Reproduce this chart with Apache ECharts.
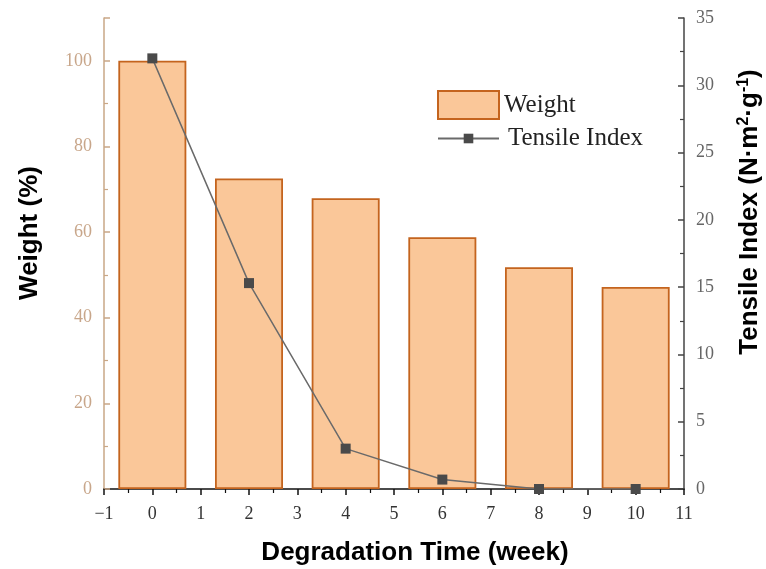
<!DOCTYPE html>
<html>
<head>
<meta charset="utf-8">
<script src="https://cdn.jsdelivr.net/npm/echarts@6/dist/echarts.min.js"></script>
<style>html,body{margin:0;padding:0;background:#fff}#c{width:766px;height:569px}</style>
</head>
<body>
<div id="c"></div>
<script>
var weeks = [0, 2, 4, 6, 8, 10];
var weightValues = [100, 72.5, 67.9, 58.8, 51.8, 47.2];
var tensileValues = [32.0, 15.3, 3.0, 0.7, 0.0, 0.0];
var xTickMin = -1, xTickMax = 11;
var leftMax = 110, rightMax = 35;

var chart = echarts.init(document.getElementById('c'), null, {renderer: 'canvas'});
var serif = 'Liberation Serif';
var sans = 'Liberation Sans';
var tan = '#c9a786';
function minus(v) { return String(v).replace('-', '\u2212'); }

var option = {
  animation: false,
  backgroundColor: '#fff',
  grid: {left: 104, right: 82, top: 18, bottom: 80},
  legend: [
    {
      data: [{name: 'Weight', icon: 'rect'}], left: 437, top: 90, padding: 0,
      itemWidth: 61, itemHeight: 28, itemGap: 0,
      textStyle: {fontFamily: serif, fontSize: 25, color: '#222', padding: [2, 0, 0, 0]}
    },
    {
      data: ['Tensile Index'], left: 437, top: 126, padding: 0,
      itemWidth: 61, itemHeight: 12,
      textStyle: {fontFamily: serif, fontSize: 25, color: '#222', padding: [0, 0, 0, 4]}
    }
  ],
  xAxis: {
    type: 'value', min: xTickMin, max: xTickMax, interval: 1,
    axisLine: {show: true, lineStyle: {color: '#111', width: 1.5}},
    axisTick: {show: true, inside: false, length: 6, lineStyle: {color: '#111', width: 1.5}},
    minorTick: {show: true, splitNumber: 2, length: 4, lineStyle: {color: '#111', width: 1.2}},
    splitLine: {show: false},
    axisLabel: {fontFamily: serif, fontSize: 18, color: '#333', margin: 16, formatter: minus}
  },
  yAxis: [
    {
      type: 'value', position: 'left', min: 0, max: leftMax, interval: 20,
      axisLine: {show: true, onZero: false, lineStyle: {color: tan, width: 1.5}},
      axisTick: {show: true, inside: true, length: 6, lineStyle: {color: tan, width: 1.5}},
      minorTick: {show: true, splitNumber: 2, length: 4, lineStyle: {color: tan, width: 1.2}},
      splitLine: {show: false},
      axisLabel: {fontFamily: serif, fontSize: 18, color: '#c8a68a', margin: 12, showMaxLabel: false}
    },
    {
      type: 'value', position: 'right', min: 0, max: rightMax, interval: 5,
      axisLine: {show: true, onZero: false, lineStyle: {color: '#444', width: 1.5}},
      axisTick: {show: true, inside: true, length: 6, lineStyle: {color: '#444', width: 1.5}},
      minorTick: {show: true, splitNumber: 2, length: 4, lineStyle: {color: '#444', width: 1.2}},
      splitLine: {show: false},
      axisLabel: {fontFamily: serif, fontSize: 18, color: '#666', margin: 12}
    }
  ],
  series: [
    {
      name: 'Weight', type: 'bar', yAxisIndex: 0, barWidth: 68,
      data: weeks.map(function (w, i) { return [w, weightValues[i]]; }),
      itemStyle: {color: '#fac799', borderColor: '#c4641e', borderWidth: 1.8}
    },
    {
      name: 'Tensile Index', type: 'line', yAxisIndex: 1, z: 5,
      data: weeks.map(function (w, i) { return [w, tensileValues[i]]; }),
      symbol: 'rect', symbolSize: 10,
      lineStyle: {color: '#6a6a6a', width: 1.5},
      itemStyle: {color: '#4a4a4a'}
    }
  ],
  graphic: [
    {
      type: 'text', x: 30, y: 233, rotation: Math.PI / 2,
      style: {text: 'Weight (%)', font: 'bold 26px "Liberation Sans"', fill: '#000', textAlign: 'center', textVerticalAlign: 'middle'}
    },
    {
      type: 'text', x: 415, y: 553,
      style: {text: 'Degradation Time (week)', font: 'bold 26px "Liberation Sans"', fill: '#000', textAlign: 'center', textVerticalAlign: 'middle'}
    },
    {
      type: 'text', x: 750, y: 212, rotation: Math.PI / 2,
      style: {
        text: '{a|Tensile Index (N·m}{s|2}{a|·g}{s|-1}{a|)}',
        textAlign: 'center', textVerticalAlign: 'middle',
        rich: {
          a: {fontFamily: sans, fontWeight: 'bold', fontSize: 26, fill: '#000', color: '#000'},
          s: {fontFamily: sans, fontWeight: 'bold', fontSize: 16, fill: '#000', color: '#000', verticalAlign: 'top', padding: [0, 0, 12, 0]}
        }
      }
    }
  ]
};
chart.setOption(option);
</script>
</body>
</html>
